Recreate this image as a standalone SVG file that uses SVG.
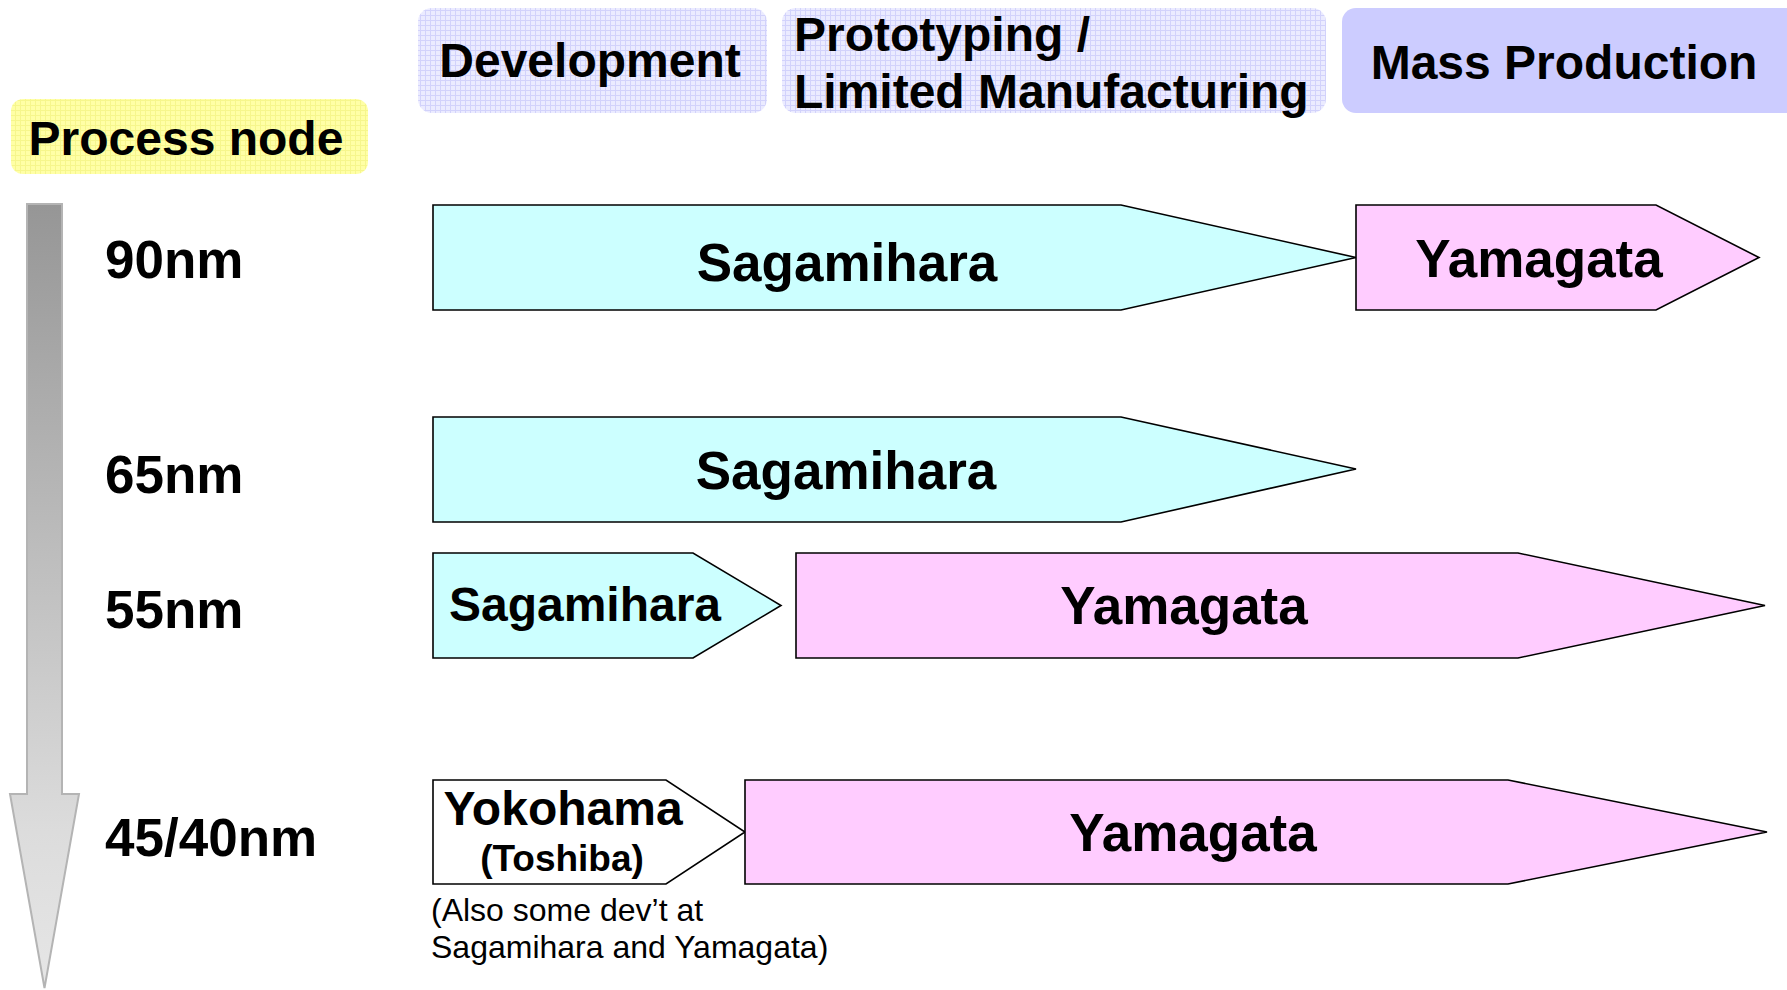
<svg xmlns="http://www.w3.org/2000/svg" width="1787" height="990" viewBox="0 0 1787 990">
  <defs>
    <!-- fine grid textures for the header tabs -->
    <pattern id="gridLav" width="5" height="5" patternUnits="userSpaceOnUse">
      <rect width="5" height="5" fill="#ebebff"/>
      <path d="M0 0.5H5M0.5 0V5" stroke="#d2d2fb" stroke-width="1"/>
    </pattern>
    <pattern id="gridYel" width="5" height="5" patternUnits="userSpaceOnUse">
      <rect width="5" height="5" fill="#ffffa6"/>
      <path d="M0 0.5H5M0.5 0V5" stroke="#f6f68c" stroke-width="1"/>
    </pattern>
    <linearGradient id="axisGrad" x1="0" y1="0" x2="0" y2="1">
      <stop offset="0" stop-color="#969696"/>
      <stop offset="0.8" stop-color="#dcdcdc"/>
      <stop offset="1" stop-color="#e6e6e6"/>
    </linearGradient>
  </defs>
  <style>
    .hdr { font-family: "Liberation Sans", Arial, sans-serif; font-weight: bold; font-size: 48px; fill: #000; }
    .node { font-family: "Liberation Sans", Arial, sans-serif; font-weight: bold; font-size: 53px; fill: #000; }
    .lbl { font-family: "Liberation Sans", Arial, sans-serif; font-weight: bold; font-size: 53px; fill: #000; }
    .note { font-family: "Liberation Sans", Arial, sans-serif; font-size: 32px; fill: #000; }
    .shape { stroke: #000; stroke-width: 1.6; stroke-linejoin: miter; }
    .cyan { fill: #ccffff; }
    .pink { fill: #ffccff; }
    .white { fill: #ffffff; }
  </style>
  <rect width="1787" height="990" fill="#ffffff"/>

  <!-- column headers -->
  <g id="hdr-process-node">
    <rect x="11" y="99" width="357" height="75" rx="12" fill="url(#gridYel)"/>
    <text class="hdr" x="186" y="155" text-anchor="middle">Process node</text>
  </g>
  <g id="hdr-development">
    <rect x="418" y="8" width="349" height="105" rx="14" fill="url(#gridLav)"/>
    <text class="hdr" x="590" y="77" text-anchor="middle">Development</text>
  </g>
  <g id="hdr-prototyping">
    <rect x="782" y="8" width="544" height="105" rx="14" fill="url(#gridLav)"/>
    <text class="hdr" x="794" y="51">Prototyping /</text>
    <text class="hdr" x="794" y="108">Limited Manufacturing</text>
  </g>
  <g id="hdr-mass-production">
    <rect x="1342" y="8" width="460" height="105" rx="14" fill="#ccccff"/>
    <text class="hdr" x="1564" y="79" text-anchor="middle">Mass Production</text>
  </g>

  <!-- process node axis -->
  <g id="axis">
    <path d="M27 204H62V794H79L44.5 988L10 794H27Z" fill="url(#axisGrad)" stroke="#b4b4b4" stroke-width="2"/>
  </g>
  <g id="labels">
    <text class="lbl" x="105" y="278">90nm</text>
    <text class="lbl" x="105" y="493">65nm</text>
    <text class="lbl" x="105" y="628">55nm</text>
    <text class="lbl" x="105" y="856">45/40nm</text>
  </g>

  <!-- 90nm -->
  <g id="n90-sagamihara">
    <path class="shape cyan" d="M433 205H1121L1356 257.5L1121 310H433Z"/>
    <text class="node" x="847" y="281" text-anchor="middle">Sagamihara</text>
  </g>
  <g id="n90-yamagata">
    <path class="shape pink" d="M1356 205H1656L1759 257.5L1656 310H1356Z"/>
    <text class="node" x="1539" y="277" text-anchor="middle">Yamagata</text>
  </g>

  <!-- 65nm -->
  <g id="n65-sagamihara">
    <path class="shape cyan" d="M433 417H1121L1356 469L1121 522H433Z"/>
    <text class="node" x="846" y="489" text-anchor="middle">Sagamihara</text>
  </g>

  <!-- 55nm -->
  <g id="n55-sagamihara">
    <path class="shape cyan" d="M433 553H693L781 605.5L693 658H433Z"/>
    <text class="hdr" x="585" y="621" text-anchor="middle">Sagamihara</text>
  </g>
  <g id="n55-yamagata">
    <path class="shape pink" d="M796 553H1518L1765 605.5L1518 658H796Z"/>
    <text class="node" x="1184" y="624" text-anchor="middle">Yamagata</text>
  </g>

  <!-- 45/40nm -->
  <g id="n45-yokohama">
    <path class="shape white" d="M433 780H666L745 832L666 884H433Z"/>
    <text class="hdr" x="563" y="825" text-anchor="middle">Yokohama</text>
    <text class="node" style="font-size:37px" x="562" y="871" text-anchor="middle">(Toshiba)</text>
  </g>
  <g id="n45-yamagata">
    <path class="shape pink" d="M745 780H1508L1767 832L1508 884H745Z"/>
    <text class="node" x="1193" y="851" text-anchor="middle">Yamagata</text>
  </g>
  <g id="n45-note">
    <text class="note" x="431" y="921">(Also some dev’t at</text>
    <text class="note" x="431" y="958">Sagamihara and Yamagata)</text>
  </g>

  <g id="connectors"/>
</svg>
